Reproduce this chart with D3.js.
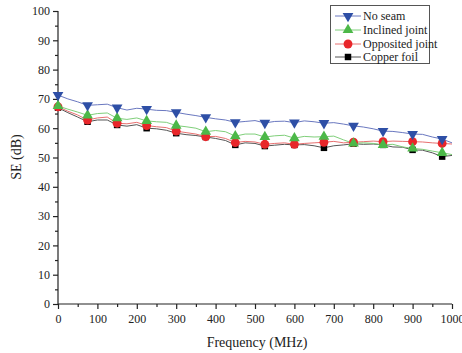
<!DOCTYPE html>
<html><head><meta charset="utf-8">
<script src="https://cdn.jsdelivr.net/npm/d3@7"></script>
<style>body{margin:0;background:#fff}svg{display:block}</style>
</head><body>
<svg id="c" width="462" height="353"></svg>
<script>
const seriesNames = ["No seam", "Inclined joint", "Opposited joint", "Copper foil"];
const lineFreq = d3.range(0, 1001, 25);
const markerFreq = [0, 75, 150, 225, 300, 375, 450, 525, 600, 675, 750, 825, 900, 975];
const noSeam = [71.3,70.0,69.0,67.8,68.0,68.2,67.0,66.2,66.8,66.5,66.1,66.0,65.4,64.8,64.3,63.7,63.2,62.8,62.0,62.3,62.6,61.8,62.3,62.4,61.9,62.5,62.2,61.7,61.9,61.4,60.8,60.4,59.8,59.0,58.9,58.5,58.0,57.9,57.0,56.3,55.0];
const inclined = [67.6,66.5,65.5,64.4,65.0,65.2,63.4,63.0,63.5,62.5,62.2,62.0,60.9,60.5,60.0,58.8,59.2,58.8,57.3,58.0,58.0,57.0,57.4,57.6,56.6,57.2,57.0,57.1,57.3,56.0,54.8,55.0,54.8,54.3,54.5,53.6,53.1,52.8,52.2,51.6,51.0];
const opposited = [67.3,65.8,64.5,62.8,63.5,63.8,61.7,61.5,62.0,60.9,60.5,60.2,59.0,58.5,58.0,57.1,57.2,56.5,55.1,55.5,55.3,54.5,54.8,55.0,54.5,54.8,55.0,55.2,55.5,55.0,55.2,55.4,55.6,55.4,55.6,55.5,55.4,55.3,55.0,54.8,54.6];
const copper = [67.0,65.3,63.8,62.2,62.8,62.8,61.1,60.7,61.2,60.0,59.8,59.3,58.3,57.8,57.5,57.0,56.5,55.8,54.3,55.0,54.8,53.9,54.2,54.5,54.3,54.4,54.0,53.3,54.0,54.3,54.7,54.5,54.6,54.3,53.6,53.5,52.6,52.5,51.6,50.3,50.7];
const xTicks = [0,100,200,300,400,500,600,700,800,900,1000];
const yTicks = [0,10,20,30,40,50,60,70,80,90,100];

const svg = d3.select("#c");
const x = d3.scaleLinear().domain([0,1000]).range([58,452]);
const y = d3.scaleLinear().domain([0,100]).range([304,11]);
const font = "'Liberation Serif','Times New Roman',serif";

// axes
const xAxis = svg.append("g").attr("transform","translate(0,304)")
  .call(d3.axisBottom(x).tickValues(xTicks).tickFormat(d3.format("d")).tickSize(5).tickPadding(5));
svg.append("g").attr("transform","translate(0,304)")
  .call(d3.axisBottom(x).tickValues(d3.range(50,1000,100)).tickSize(3).tickFormat(""))
  .select(".domain").remove();
const yAxis = svg.append("g").attr("transform","translate(58,0)")
  .call(d3.axisLeft(y).tickValues(yTicks).tickSize(5).tickPadding(3));
svg.append("g").attr("transform","translate(58,0)")
  .call(d3.axisLeft(y).tickValues(d3.range(5,100,10)).tickSize(3).tickFormat(""))
  .select(".domain").remove();
svg.selectAll("g").attr("font-family",font);
svg.selectAll(".tick text").attr("font-family",font).attr("font-size",12).attr("fill","#222");
svg.selectAll(".domain,.tick line").attr("stroke","#222").attr("stroke-width",1.2);
xAxis.select(".domain").attr("d","M58,0H452");
yAxis.select(".domain").attr("d","M0,304V11");

svg.append("text").attr("x",257).attr("y",347).attr("text-anchor","middle")
  .attr("font-family",font).attr("font-size",14).attr("fill","#222").text("Frequency (MHz)");
svg.append("text").attr("transform","translate(21,157) rotate(-90)").attr("text-anchor","middle")
  .attr("font-family",font).attr("font-size",14).attr("fill","#222").text("SE (dB)");

const series = [
  {name: seriesNames[3], vals: copper, line: "#555", fill: "#000", sym: d3.symbolSquare, size: 42},
  {name: seriesNames[2], vals: opposited, line: "#e87070", fill: "#e8262a", sym: d3.symbolCircle, size: 62},
  {name: seriesNames[1], vals: inclined, line: "#7fcf7a", fill: "#4cb848", sym: d3.symbolTriangle, size: 50, rot: 0},
  {name: seriesNames[0], vals: noSeam, line: "#6a78c0", fill: "#2e4fa6", sym: d3.symbolTriangle, size: 50, rot: 180}
];
const line = d3.line().x((d,i)=>x(lineFreq[i])).y(d=>y(d));
series.forEach(s=>{
  svg.append("path").attr("d",line(s.vals)).attr("fill","none").attr("stroke",s.line).attr("stroke-width",1);
});
series.forEach(s=>{
  const pts = markerFreq.map(f=>({f, v: s.vals[lineFreq.indexOf(f)]}));
  svg.append("g").selectAll("path").data(pts).join("path")
    .attr("d", d3.symbol().type(s.sym).size(s.size))
    .attr("transform", d=>`translate(${x(d.f)},${y(d.v)}) rotate(${s.rot||0})`)
    .attr("fill", s.fill);
});

// legend
const lg = svg.append("g");
lg.append("rect").attr("x",330.5).attr("y",5.5).attr("width",99).attr("height",58)
  .attr("fill","#fff").attr("stroke","#555").attr("stroke-width",1);
const legOrder = [series[3], series[2], series[1], series[0]];
const rowY = [16, 30, 44, 57];
legOrder.forEach((s,i)=>{
  lg.append("line").attr("x1",335).attr("x2",361).attr("y1",rowY[i]).attr("y2",rowY[i])
    .attr("stroke",s.line).attr("stroke-width",1);
  lg.append("path").attr("d", d3.symbol().type(s.sym).size(s.size))
    .attr("transform",`translate(348,${rowY[i]}) rotate(${s.rot||0})`).attr("fill",s.fill);
  lg.append("text").attr("x",363).attr("y",rowY[i]+4).attr("font-family",font).attr("font-size",12)
    .attr("fill","#222").text(s.name);
});
</script>
</body></html>
